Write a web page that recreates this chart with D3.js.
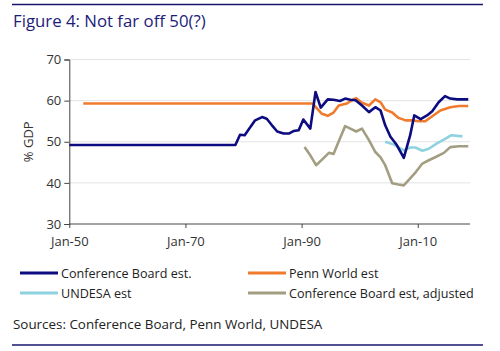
<!DOCTYPE html>
<html>
<head>
<meta charset="utf-8">
<script src="https://cdn.jsdelivr.net/npm/d3@7"></script>
<style>
  body { margin: 0; background: #fff; }
  text { font-family: "Open Sans", sans-serif; }
</style>
</head>
<body>
<div id="chart"></div>
<script>
// data (x = fractional year, y = % GDP)
const cbYears = [1950, 1978.6, 1979.4, 1980.2, 1981, 1982, 1983.2, 1984, 1984.9, 1985.8, 1986.9, 1987.8, 1988.6, 1989.5, 1990.3, 1991.5, 1992.4, 1993.3, 1994.5, 1995.5, 1996.6, 1997.5, 1998.4, 1999.3, 2000.4, 2001.6, 2002.7, 2003.6, 2004.4, 2005.3, 2006.4, 2007.6, 2008.7, 2009.4, 2010.5, 2011.6, 2012.5, 2013.6, 2014.7, 2015.6, 2016.8, 2018.7];
const cbValues = [49.2, 49.2, 51.7, 51.6, 53.2, 55.2, 56.0, 55.6, 54.0, 52.5, 52.0, 52.0, 52.6, 52.8, 55.4, 53.2, 62.1, 58.3, 60.3, 60.2, 59.9, 60.5, 60.2, 60.1, 58.8, 57.2, 58.4, 57.6, 54.0, 51.2, 49.2, 46.1, 51.6, 56.4, 55.5, 56.4, 57.4, 59.6, 61.1, 60.5, 60.3, 60.3];

const pennYears = [1952.4, 1991.9, 1993.5, 1994.5, 1995.5, 1996.4, 1997.8, 1998.7, 1999.4, 2000.4, 2001.6, 2002.7, 2003.6, 2004.4, 2005.6, 2006.7, 2007.9, 2009.0, 2010.2, 2011.3, 2012.5, 2013.9, 2015.6, 2017.1, 2018.7];
const pennValues = [59.3, 59.3, 56.8, 56.3, 57.1, 58.8, 59.3, 60.1, 60.6, 59.5, 58.8, 60.3, 59.6, 57.8, 57.1, 55.8, 55.2, 55.2, 55.0, 55.0, 56.2, 57.6, 58.4, 58.7, 58.7];

const undesaYears = [2004.4, 2005.9, 2007.6, 2008.7, 2009.6, 2010.8, 2011.9, 2013.3, 2014.5, 2015.8, 2017.7];
const undesaValues = [50.0, 49.3, 47.9, 48.6, 48.6, 47.8, 48.3, 49.6, 50.5, 51.6, 51.3];

const adjYears = [1990.5, 1991.5, 1992.5, 1993.7, 1994.7, 1995.5, 1996.6, 1997.5, 1998.4, 1999.4, 2000.4, 2001.6, 2002.7, 2003.6, 2004.4, 2005.6, 2006.7, 2007.6, 2008.7, 2009.7, 2010.8, 2011.9, 2013.1, 2014.5, 2015.6, 2017.1, 2018.7];
const adjValues = [48.7, 46.7, 44.3, 45.9, 47.3, 47.0, 50.8, 53.8, 53.2, 52.5, 53.2, 50.4, 47.5, 46.2, 44.3, 39.9, 39.6, 39.4, 41.1, 42.7, 44.7, 45.5, 46.3, 47.3, 48.7, 48.9, 48.9];

const xTicks = [1950, 1970, 1990, 2010];
const xTickLabels = ["Jan-50", "Jan-70", "Jan-90", "Jan-10"];
const yTicks = [30, 40, 50, 60, 70];

const seriesNames = ["Conference Board est.", "Penn World est", "UNDESA est", "Conference Board est, adjusted"];
const seriesColors = ["#0c0c80", "#f07b2c", "#8fd2df", "#a39e82"];

const W = 500, H = 351;
const svg = d3.select("#chart").append("svg")
    .attr("width", W)
    .attr("height", H);

// rules top and bottom
svg.append("line").attr("x1", 12).attr("x2", 483).attr("y1", 4.5).attr("y2", 4.5)
    .attr("stroke", "#16166e").attr("stroke-width", 1.5);
svg.append("line").attr("x1", 12).attr("x2", 483).attr("y1", 345).attr("y2", 345)
    .attr("stroke", "#16166e").attr("stroke-width", 1.5);

svg.append("text")
    .attr("x", 13).attr("y", 27)
    .attr("fill", "#1c1c78")
    .style("font-size", "16.8px")
    .style("font-weight", 500)
    .text("Figure 4: Not far off 50(?)");

const x = d3.scaleLinear().domain([1950, 2019]).range([69.3, 470]);
const y = d3.scaleLinear().domain([30, 70]).range([224, 59.5]);

// gridlines
svg.append("g")
    .selectAll("line")
    .data(yTicks.slice(1))
    .enter().append("line")
    .attr("x1", x(1950)).attr("x2", x(2019))
    .attr("y1", d => y(d)).attr("y2", d => y(d))
    .attr("stroke", "#e3e3e3").attr("stroke-width", 1);

// axes
const yAxis = svg.append("g")
    .attr("transform", `translate(${x(1950)},0)`)
    .call(d3.axisLeft(y).tickValues(yTicks).tickSize(5).tickPadding(3));
const xAxis = svg.append("g")
    .attr("transform", `translate(0,${y(30)})`)
    .call(d3.axisBottom(x).tickValues(xTicks).tickFormat((d, i) => xTickLabels[i]).tickSize(4).tickPadding(9));

[yAxis, xAxis].forEach(g => {
    g.select(".domain").attr("stroke", "#444");
    g.selectAll(".tick line").attr("stroke", "#444");
    g.selectAll(".tick text").attr("fill", "#333").style("font-size", "13px")
        .style("font-family", "'Open Sans', sans-serif");
});
xAxis.select(".domain").attr("d", `M${x(1950)},0H${x(2019)}`);

svg.append("text")
    .attr("transform", `translate(33,${y(50)}) rotate(-90)`)
    .attr("text-anchor", "middle")
    .attr("fill", "#333")
    .style("font-size", "13px")
    .text("% GDP");

// lines
const line = d3.line().x(d => x(d[0])).y(d => y(d[1]));
const series = [
    d3.zip(cbYears, cbValues),
    d3.zip(pennYears, pennValues),
    d3.zip(undesaYears, undesaValues),
    d3.zip(adjYears, adjValues)
];
const drawOrder = [3, 2, 1, 0];
drawOrder.forEach(i => {
    svg.append("path")
        .datum(series[i])
        .attr("d", line)
        .attr("fill", "none")
        .attr("stroke", seriesColors[i])
        .attr("stroke-width", 2.6)
        .attr("stroke-linejoin", "round");
});

// legend
const legend = svg.append("g");
seriesNames.forEach((name, i) => {
    const lx = i % 2 === 0 ? 20 : 248;
    const ly = i < 2 ? 273 : 293;
    legend.append("line")
        .attr("x1", lx).attr("x2", lx + 38)
        .attr("y1", ly).attr("y2", ly)
        .attr("stroke", seriesColors[i]).attr("stroke-width", 3);
    legend.append("text")
        .attr("x", lx + 41).attr("y", ly + 4.5)
        .attr("fill", "#222")
        .style("font-size", "12.6px")
        .text(name);
});

svg.append("text")
    .attr("x", 13).attr("y", 329)
    .attr("fill", "#222")
    .style("font-size", "13.4px")
    .text("Sources: Conference Board, Penn World, UNDESA");
</script>
</body>
</html>
